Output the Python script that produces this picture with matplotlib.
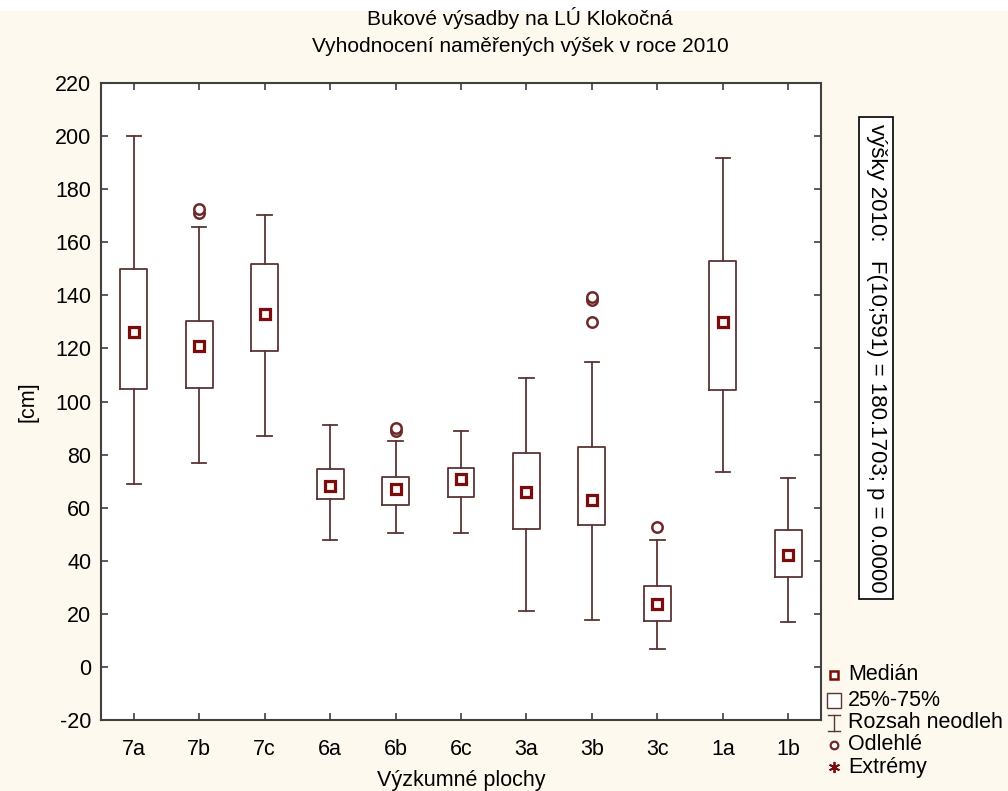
import matplotlib
matplotlib.use('Agg')
import matplotlib.pyplot as plt
from matplotlib.patches import Rectangle

plt.rcParams['font.family'] = ['Liberation Sans', 'DejaVu Sans']
plt.rcParams['axes.unicode_minus'] = False

# data
cats = ['7a', '7b', '7c', '6a', '6b', '6c', '3a', '3b', '3c', '1a', '1b']
med = [126.3, 121.0, 133.0, 68.3, 67.0, 70.8, 66.0, 63.0, 23.6, 130.0, 42.0]
q1 = [104.6, 105.0, 119.0, 63.3, 61.0, 64.2, 52.0, 53.3, 17.4, 104.4, 33.8]
q3 = [150.0, 130.2, 151.7, 74.5, 71.7, 74.8, 80.7, 83.0, 30.5, 153.0, 51.6]
w_lo = [69.0, 77.0, 87.0, 48.0, 50.6, 50.6, 21.0, 17.7, 6.8, 73.6, 17.1]
w_hi = [200.0, 165.8, 170.2, 91.2, 85.3, 88.7, 109.0, 114.8, 47.9, 191.7, 71.3]
outliers = [[], [171.2, 172.4], [], [], [88.9, 89.9], [], [], [130.1, 138.3, 139.4], [52.9], [], []]

box_col = '#5a3535'
red = '#7a0c0c'

fig = plt.figure(figsize=(10.08, 7.91), dpi=100)
fig.patch.set_facecolor('#fdf9ee')
# white strip at the very top
fig.patches.append(Rectangle((0, 1 - 11 / 791), 1, 11 / 791, transform=fig.transFigure,
                             facecolor='white', edgecolor='none', zorder=0))

ax = fig.add_axes([101 / 1008, 1 - 720 / 791, 720 / 1008, 637 / 791])
ax.set_facecolor('white')

pos = list(range(len(cats)))
stats = []
for i in pos:
    stats.append({'med': med[i], 'q1': q1[i], 'q3': q3[i],
                  'whislo': w_lo[i], 'whishi': w_hi[i], 'fliers': []})

ax.bxp(stats, positions=pos, widths=0.41, showfliers=False,
       boxprops=dict(color=box_col, linewidth=1.3),
       whiskerprops=dict(color=box_col, linewidth=1.3),
       capprops=dict(color=box_col, linewidth=1.3),
       medianprops=dict(linewidth=0), capwidths=0.22)

ax.plot(pos, med, linestyle='none', marker='s', markersize=7.5,
        markerfacecolor='#fff8f8', markeredgecolor=red, markeredgewidth=2.3, zorder=4)

for i in pos:
    if outliers[i]:
        ax.plot([i] * len(outliers[i]), outliers[i], linestyle='none', marker='o',
                markersize=7.5, markerfacecolor='white', markeredgecolor='#6e2a2a',
                markeredgewidth=1.8, zorder=4)

ax.set_xlim(-0.5, 10.5)
ax.set_ylim(-20, 220)
ax.set_yticks(range(-20, 221, 20))
ax.set_xticks(pos)
ax.set_xticklabels(cats)
ax.tick_params(direction='in', length=5, width=1.2, color='#404040',
               labelsize=15.5, top=True, right=True, pad=7)
ax.tick_params(axis='x', pad=14)
for s in ax.spines.values():
    s.set_color('#404040')
    s.set_linewidth(1.5)

ax.set_xlabel('Výzkumné plochy', fontsize=15.5, labelpad=7)
ax.set_ylabel('[cm]', fontsize=15.5, labelpad=12)

fig.text(520 / 1008, 1 - 18 / 791, 'Bukové výsadby na LÚ Klokočná', ha='center', va='center', fontsize=15)
fig.text(520 / 1008, 1 - 47 / 791, 'Vyhodnocení naměřených výšek v roce 2010', ha='center', va='center', fontsize=15)

fig.text(876 / 1008, 1 - 358 / 791, 'výšky 2010:   F(10;591) = 180.1703; p = 0.0000',
         rotation=270, ha='center', va='center', fontsize=16,
         bbox=dict(boxstyle='square,pad=0.3', facecolor='white', edgecolor='black', linewidth=1.2))

# legend drawn in pixel coordinates of the figure
lg = fig.add_axes([0, 0, 1, 1], facecolor='none')
lg.set_xlim(0, 1008)
lg.set_ylim(791, 0)
lg.axis('off')
rows = [675, 701, 723, 745, 767]
labels = ['Medián', '25%-75%', 'Rozsah neodleh', 'Odlehlé', 'Extrémy']
lx = 834
lg.plot([lx], [rows[0]], marker='s', markersize=6, markerfacecolor='#fff8f8',
        markeredgecolor=red, markeredgewidth=1.8)
lg.add_patch(Rectangle((lx - 7, rows[1] - 8), 14, 15, facecolor='white', edgecolor=box_col, linewidth=1))
lg.plot([lx, lx], [rows[2] - 8, rows[2] + 8], color=box_col, linewidth=1)
lg.plot([lx - 6, lx + 6], [rows[2] - 8, rows[2] - 8], color=box_col, linewidth=1)
lg.plot([lx - 6, lx + 6], [rows[2] + 8, rows[2] + 8], color=box_col, linewidth=1)
lg.plot([lx], [rows[3]], marker='o', markersize=5.5, markerfacecolor='white',
        markeredgecolor='#6e2a2a', markeredgewidth=1.6)
lg.plot([lx], [rows[4]], marker=(6, 2, 0), markersize=8, color=red, markeredgewidth=1.3)
for y, t in zip(rows, labels):
    lg.text(848, y, t, fontsize=15.5, va='center', ha='left')

fig.savefig('out.png', dpi=100, facecolor=fig.get_facecolor())
